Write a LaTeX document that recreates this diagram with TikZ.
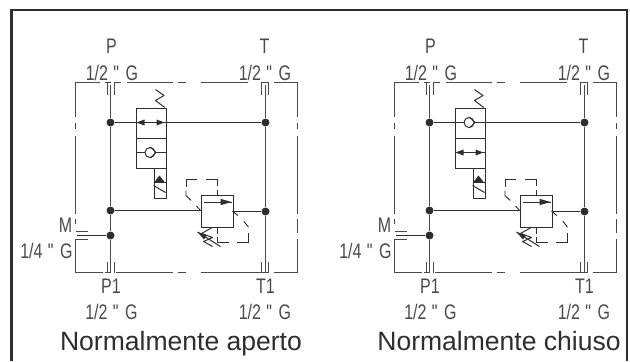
\documentclass[tikz,border=0pt]{standalone}
\usepackage{fontspec}
\setmainfont{Liberation Sans}
\newfontfamily\din[FakeStretch=0.76]{Liberation Sans}
\newcommand{\halfinch}{1/2\hspace{4pt}"\hspace{5pt}G}
\newcommand{\quarterinch}{1/4\hspace{4pt}"\hspace{5pt}G}
\definecolor{ink}{HTML}{2E2E2E}
\definecolor{soft}{HTML}{4A4A4A}
\tikzset{
  wire/.style={draw=ink,line width=.75pt},
  main/.style={draw=soft,line width=.95pt},
  body/.style={draw=soft,line width=.75pt},
  dashline/.style={draw=ink,line width=.7pt},
  dot/.style={circle,fill=ink,draw=none,inner sep=0pt,minimum size=6pt},
  cell/.style={draw=ink,line width=.75pt,rectangle,inner sep=0pt},
  lab/.style={font=\din\fontsize{15.8}{17}\selectfont,text=soft,anchor=base,inner sep=0pt},
  ttl/.style={font=\fontsize{19.9}{22}\selectfont,text=ink,anchor=base,inner sep=0pt},
  head/.style={fill=ink,draw=none}
}
\newcommand{\hyd}[5]{%
\begin{scope}[shift={(#2,#3)}]
  % labels
  \node[lab] (#1lP) at (111,53) {P};
  \node[lab] (#1lT) at (264,53) {T};
  \node[lab] (#1lG1) at (111.5,80) {\halfinch};
  \node[lab] (#1lG2) at (264.5,80) {\halfinch};
  \node[lab] (#1lM) at (65,232) {M};
  \node[lab] (#1lG3) at (46,258) {\quarterinch};
  \node[lab] (#1lPu) at (110.5,293) {P1};
  \node[lab] (#1lTu) at (265,293) {T1};
  \node[lab] (#1lG4) at (111,319) {\halfinch};
  \node[lab] (#1lG5) at (264.5,319) {\halfinch};
  % envelope
  \draw[body] (99,82) -- (75,82) -- (75,116);
  \draw[body] (75,122) -- (75,128) (75,135) -- (75,213) (75,218) -- (75,223);
  \draw[body] (87,239) -- (75,239) -- (75,272) -- (102,272);
  \draw[body] (75,231) -- (87,231);
  \draw[body] (115,272) -- (172,272) (177,272) -- (185,272) (200,272) -- (260,272);
  \draw[body] (273,272) -- (297,272) -- (297,238) (297,232) -- (297,218) (297,213) -- (297,135) (297,128) -- (297,122) (297,116) -- (297,82) -- (273,82);
  \draw[body] (126,82) -- (172,82) (177,82) -- (185,82) (200,82) -- (247,82);
  % ports
  \draw[body] (104,82) -- (110,82) (107,82) -- (107,94);
  \draw[body] (120,82) -- (114,82) -- (114,94);
  \draw[body] (261,94) -- (261,82) -- (268,82) -- (268,94);
  \draw[body] (107,261) -- (107,272) (104,272) -- (110,272);
  \draw[body] (114,261) -- (114,272);
  \draw[body] (261,261) -- (261,272) -- (268,272) -- (268,261);
  % junctions
  \node[dot] (#1a) at (110,122) {};
  \node[dot] (#1b) at (265,122) {};
  \node[dot] (#1c) at (110,210) {};
  \node[dot] (#1d) at (265,211) {};
  \node[dot] (#1e) at (110,235) {};
  \coordinate (#1pt) at (110,84);
  \coordinate (#1pb) at (110,272);
  \coordinate (#1tt) at (265,84);
  \coordinate (#1tb) at (265,272);
  \coordinate (#1m) at (76,235);
  % directional valve
  \node[cell,minimum width=22.5pt,minimum height=22.5pt,anchor=north west] (#1v1) at (135,107) {};
  \node[cell,minimum width=22.5pt,minimum height=22.5pt,anchor=north west] (#1v2) at (135,137) {};
  \node[cell,minimum width=9pt,minimum height=22.5pt,anchor=north west] (#1sol) at (153,167) {};
  \draw[wire] (#1sol.west |- 0,182) -- (#1sol.east |- 0,182);
  \draw[wire] (153,185) -- (165,192);
  \fill[head] (153.5,182) -- (159,175) -- (164.5,182) -- cycle;
  \draw[wire,line join=round] (155,89) -- (163.5,95) -- (155,100) -- (164.3,107);
  % arrows cell
  \draw[wire] (135,#4) -- (165,#4);
  \fill[head] (136,#4) -- (144,#4-3) -- (144,#4+3) -- cycle;
  \fill[head] (164,#4) -- (156,#4-3) -- (156,#4+3) -- cycle;
  % check cell
  \node[circle,draw=ink,fill=white,line width=.75pt,inner sep=0pt,minimum size=7.5pt] (#1chk) at (149.5,#5) {};
  \draw[wire] (150,#5-5.5) -- (155.5,#5) -- (150,#5+5.5);
  \draw[wire] (135,#5) -- (#1chk.west);
  \draw[wire] (155.5,#5) -- (165,#5);
  % wires
  \draw[main] (#1pt) -- (#1a) -- (#1c) -- (#1e) -- (#1pb);
  \draw[main] (#1tt) -- (#1b) -- (#1d) -- (#1tb);
  \draw[wire] (#1a) -- (135,122);
  \draw[wire] (165,122) -- (#1b);
  \draw[wire] (#1m) -- (#1e);
  % relief valve
  \node[cell,minimum width=24pt,minimum height=24pt,anchor=north west] (#1r) at (200,194.5) {};
  \draw[wire] (#1c) -- (#1r.west |- #1c);
  \draw[wire] (#1r.east |- #1d) -- (#1d);
  \draw[wire] (203,201.5) -- (231,201.5);
  \fill[head] (231,201.5) -- (220,198.3) -- (220,204.7) -- cycle;
  \draw[dashline] (205,179) -- (216.5,179) -- (216.5,185);
  \draw[dashline] (216.5,189.3) -- (216.5,194.5);
  \draw[dashline] (196.5,179) -- (185.5,179) -- (185.5,186);
  \draw[dashline] (185.5,190) -- (185.5,195) -- (190.7,200);
  \draw[dashline] (196,205.5) -- (200,210);
  \draw[dashline] (217,226.5) -- (217,233);
  \draw[dashline] (217,236.5) -- (217,241.5) -- (228.3,241.5);
  \draw[dashline] (236.7,241.5) -- (248,241.5) -- (248,232);
  \draw[dashline] (248,226.7) -- (243.3,220.7);
  \draw[dashline] (237.3,215) -- (232,210.7);
  \draw[wire,line join=round] (211.7,227) -- (201,233) -- (212,237) -- (203,241) -- (212,246);
  \draw[wire] (220,246) -- (197,231.5);
  \fill[head] (197,231.5) -- (206.5,234.5) -- (203.5,239) -- cycle;
\end{scope}}
\begin{document}
\begin{tikzpicture}[x=.75pt,y=-.75pt]
  \useasboundingbox (0,0) rectangle (630,361);
  \coordinate (fbl) at (11.5,361);
  \coordinate (ftl) at (11.5,10);
  \coordinate (ftr) at (627,10);
  \coordinate (fbr) at (627,361);
  \draw[draw=ink,line width=2.2pt,line join=miter] (fbl) -- (ftl) -- (ftr) -- (fbr);
  \hyd{A}{0.5}{0.5}{122}{152}
  \hyd{B}{319.5}{0.5}{152}{122}
  \node[ttl] (ta) at (181,350) {Normalmente aperto};
  \node[ttl] (tb) at (499,350) {Normalmente chiuso};
\end{tikzpicture}
\end{document}
